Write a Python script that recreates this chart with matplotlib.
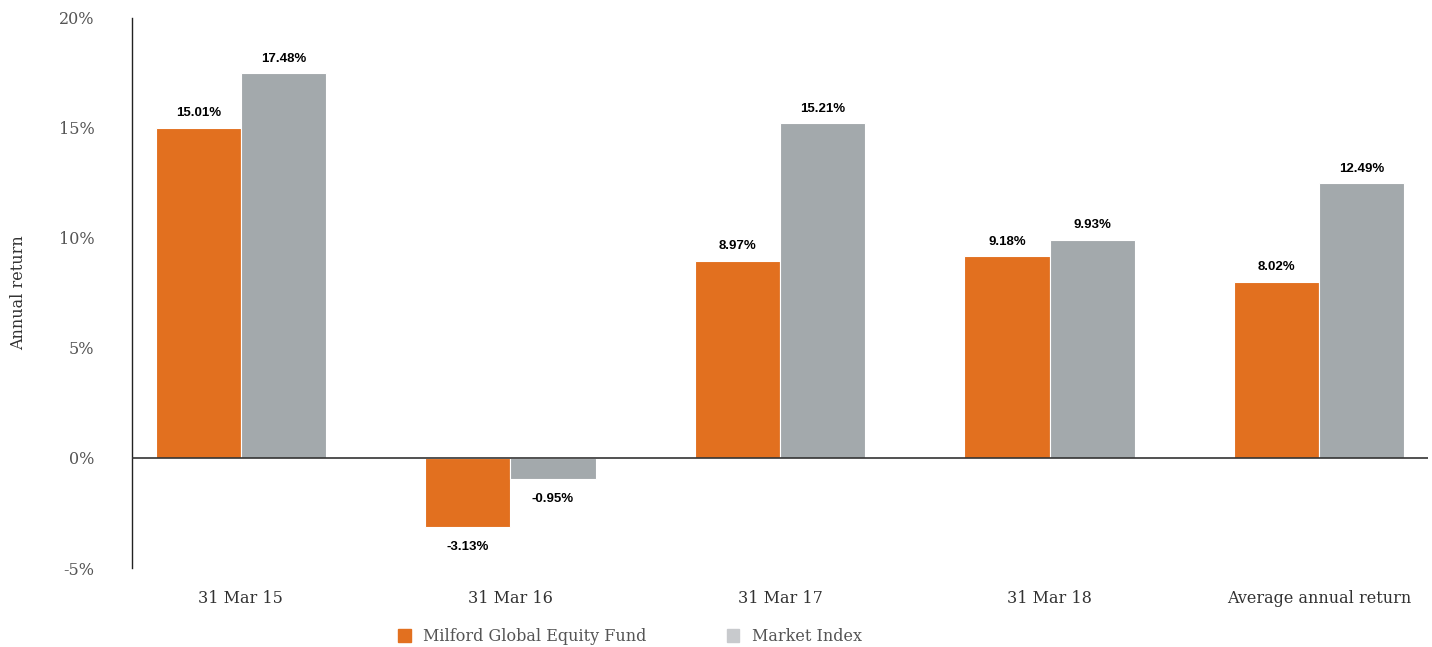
import numpy as np
import matplotlib
matplotlib.use('Agg')
import matplotlib.pyplot as plt
from matplotlib.patches import Patch

# data
categories = ['31 Mar 15', '31 Mar 16', '31 Mar 17', '31 Mar 18', 'Average annual return']
fund = [15.01, -3.13, 8.97, 9.18, 8.02]
index = [17.48, -0.95, 15.21, 9.93, 12.49]
series_names = ['Milford Global Equity Fund', 'Market Index']
yticks = [-5, 0, 5, 10, 15, 20]

orange = '#E2701F'
grey = '#A3A9AC'
text_grey = '#555555'
serif = ['DejaVu Serif']
label_font = ['Liberation Sans Narrow', 'Liberation Sans', 'DejaVu Sans']

fig = plt.figure(figsize=(14.32, 6.47), dpi=100)
ax = fig.add_axes([0.0922, 0.1221, 0.905, 0.8501])

x = np.arange(len(categories))
w = 0.316
b1 = ax.bar(x - w / 2, fund, w, color=orange, edgecolor='white', linewidth=0.8)
b2 = ax.bar(x + w / 2, index, w, color=grey, edgecolor='white', linewidth=0.8)

# value labels
for bars, vals in [(b1, fund), (b2, index)]:
    for rect, v in zip(bars, vals):
        cx = rect.get_x() + rect.get_width() / 2
        if v >= 0:
            ax.annotate(f'{v:.2f}%', (cx, v), xytext=(0, 6), textcoords='offset points',
                        ha='center', va='bottom', fontsize=9.5, fontweight='bold',
                        family=label_font, color='black')
        else:
            ax.annotate(f'{v:.2f}%', (cx, v), xytext=(0, -10), textcoords='offset points',
                        ha='center', va='top', fontsize=9.5, fontweight='bold',
                        family=label_font, color='black')

ax.axhline(0, color='#333333', linewidth=1.2, zorder=3)
ax.set_xlim(-0.404, 4.404)
ax.set_ylim(-5, 20)
ax.set_yticks(yticks)
ax.set_yticklabels([f'{t}%' for t in yticks], family=serif, fontsize=11.5, color=text_grey)
ax.set_xticks(x)
ax.set_xticklabels(categories, family=serif, fontsize=11.5, color='#333333')
ax.tick_params(axis='both', length=0)
ax.tick_params(axis='y', pad=27)
ax.tick_params(axis='x', pad=16)

for s in ['top', 'right', 'bottom']:
    ax.spines[s].set_visible(False)
ax.spines['left'].set_color('#222222')
ax.spines['left'].set_linewidth(1.0)

ax.set_ylabel('Annual return', family=serif, fontsize=11.5, color='#333333', labelpad=23)

handles = [Patch(color=orange), Patch(color='#C8CACD')]
fig.legend(handles, series_names, loc='center', bbox_to_anchor=(0.44, 0.016),
           ncol=2, frameon=False, prop={'family': serif, 'size': 11.5},
           labelcolor=text_grey, handlelength=0.8, handleheight=0.8,
           handletextpad=0.8, columnspacing=5.0)

fig.savefig('out.png', dpi=100)
